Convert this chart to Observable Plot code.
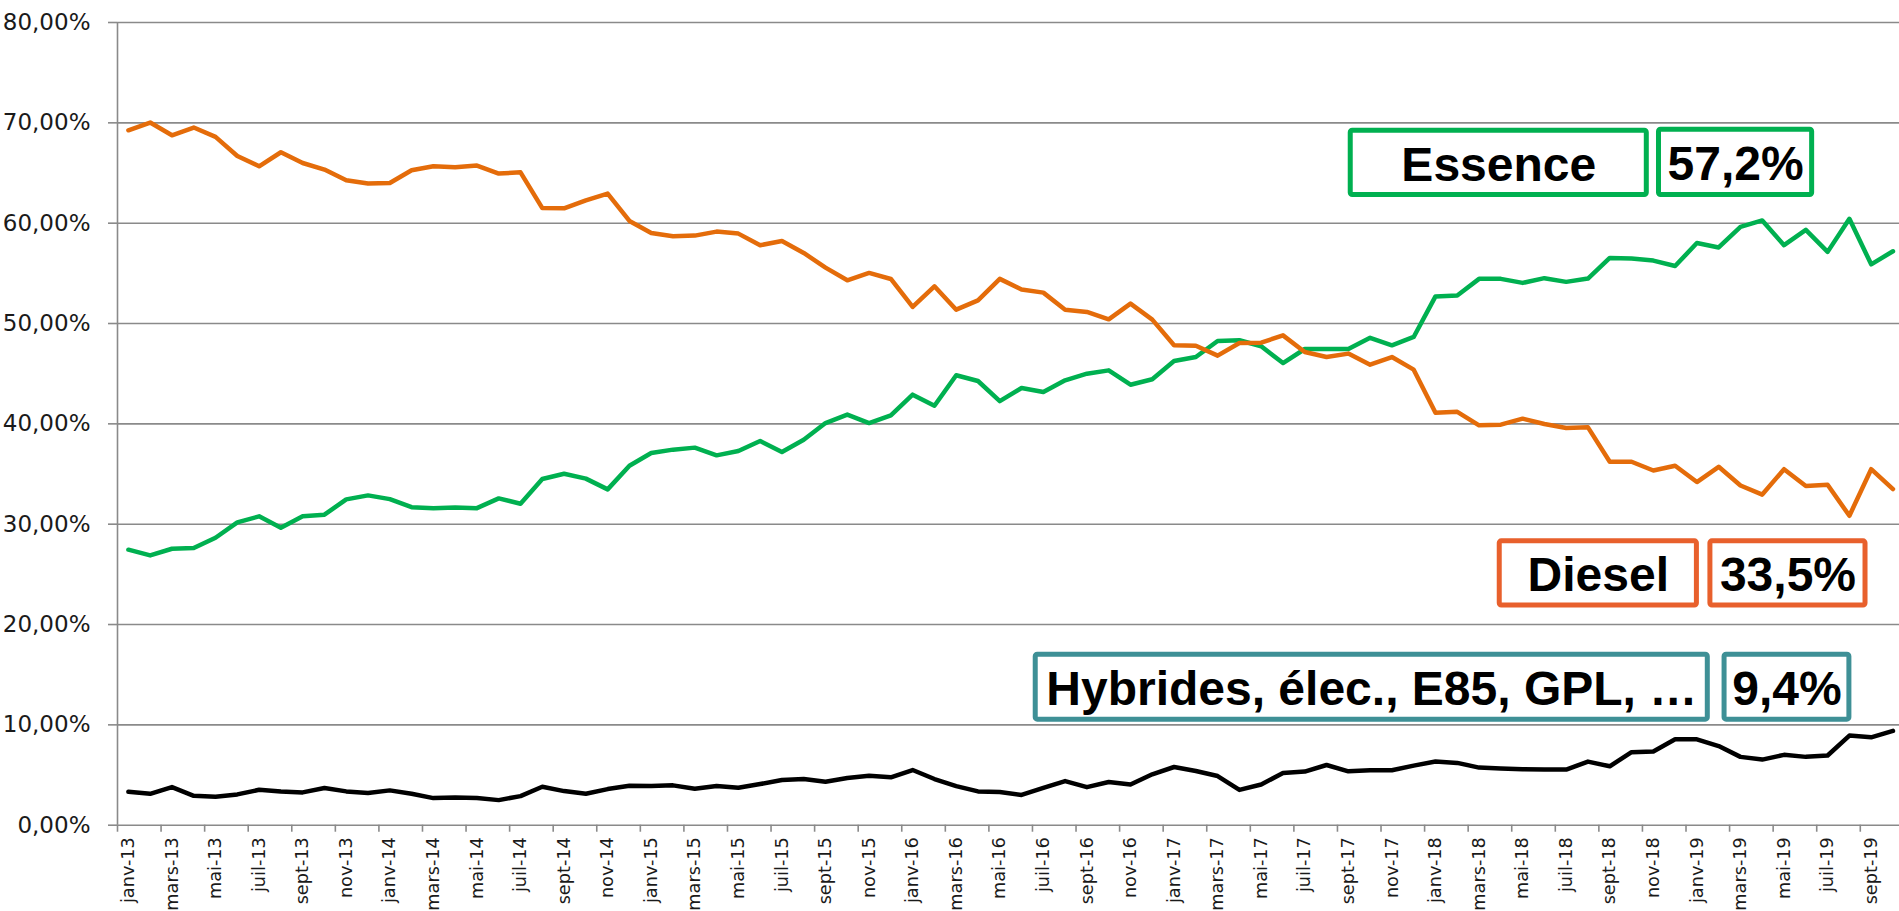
<!DOCTYPE html>
<html>
<head>
<meta charset="utf-8">
<script src="https://cdn.jsdelivr.net/npm/d3@7"></script>
<script src="https://cdn.jsdelivr.net/npm/@observablehq/plot@0.6"></script>
<style>
  html, body { margin: 0; padding: 0; background: #fff; }
  #chart svg { display: block; }
</style>
</head>
<body>
<div id="chart"></div>
<script>
// ---- Data ----
const monthNames = ["janv", "févr", "mars", "avr", "mai", "juin", "juil", "août", "sept", "oct", "nov", "déc"];
const firstYear = 13;

const essence = [
  27.46, 26.89, 27.55, 27.62, 28.65, 30.18, 30.78, 29.65, 30.78, 30.95, 32.47, 32.87,
  32.50, 31.70, 31.60, 31.67, 31.60, 32.57, 32.04, 34.50, 35.03, 34.54, 33.47, 35.83,
  37.09, 37.43, 37.63, 36.86, 37.29, 38.29, 37.19, 38.42, 40.08, 40.92, 40.08, 40.85,
  42.91, 41.81, 44.84, 44.27, 42.27, 43.57, 43.17, 44.34, 45.00, 45.33, 43.90, 44.44,
  46.26, 46.66, 48.26, 48.33, 47.73, 46.06, 47.46, 47.46, 47.46, 48.57, 47.83, 48.66,
  52.70, 52.80, 54.45, 54.45, 54.05, 54.52, 54.15, 54.48, 56.54, 56.47, 56.27, 55.73,
  58.02, 57.58, 59.63, 60.27, 57.81, 59.33, 57.14, 60.44, 55.90, 57.20
];

const diesel = [
  69.26, 70.03, 68.76, 69.53, 68.60, 66.70, 65.67, 67.07, 66.00, 65.34, 64.28, 63.95,
  64.00, 65.28, 65.67, 65.57, 65.74, 64.94, 65.07, 61.50, 61.48, 62.28, 62.95, 60.22,
  59.02, 58.69, 58.76, 59.16, 58.96, 57.80, 58.22, 57.03, 55.57, 54.31, 55.04, 54.44,
  51.65, 53.71, 51.38, 52.31, 54.45, 53.38, 53.08, 51.38, 51.15, 50.42, 51.98, 50.39,
  47.83, 47.79, 46.80, 48.06, 48.09, 48.82, 47.16, 46.66, 47.00, 45.90, 46.66, 45.40,
  41.10, 41.20, 39.85, 39.92, 40.52, 39.99, 39.58, 39.65, 36.22, 36.22, 35.35, 35.82,
  34.20, 35.72, 33.86, 32.95, 35.48, 33.80, 33.93, 30.84, 35.48, 33.50
];

const hybrides = [
  3.33, 3.13, 3.80, 2.93, 2.83, 3.07, 3.53, 3.37, 3.27, 3.70, 3.37, 3.20,
  3.47, 3.13, 2.70, 2.77, 2.70, 2.50, 2.90, 3.83, 3.40, 3.13, 3.60, 3.93,
  3.90, 3.97, 3.63, 3.90, 3.73, 4.10, 4.50, 4.60, 4.33, 4.70, 4.93, 4.77,
  5.50, 4.60, 3.90, 3.37, 3.30, 3.02, 3.72, 4.40, 3.79, 4.30, 4.06, 5.07,
  5.80, 5.40, 4.90, 3.52, 4.06, 5.20, 5.34, 6.00, 5.37, 5.47, 5.47, 5.94,
  6.34, 6.21, 5.74, 5.64, 5.57, 5.54, 5.54, 6.34, 5.87, 7.28, 7.35, 8.56,
  8.56, 7.89, 6.81, 6.54, 7.01, 6.81, 6.95, 8.93, 8.76, 9.40
];

const yTicks = [0, 10, 20, 30, 40, 50, 60, 70, 80];

// category labels "janv-13" ... "oct-19"
const categories = essence.map((_, i) => monthNames[i % 12] + "-" + (firstYear + Math.floor(i / 12)));
const labelIdx = categories.map((_, i) => i).filter(i => i % 2 === 0);
const tickBoundaries = labelIdx.map(i => i - 0.5);

const fmtPct = v => v.toFixed(1).replace(".", ",") + "%";
const last = arr => arr[arr.length - 1];

// ---- Annotation layout (in data units: category index / percent) ----
const annotations = [
  { text: "Essence", x1: 56.11, x2: 69.70, y1: 62.80, y2: 69.21, color: "#00B050" },
  { text: fmtPct(last(essence)), x1: 70.26, x2: 77.29, y1: 62.80, y2: 69.31, color: "#00B050" },
  { text: "Diesel", x1: 62.95, x2: 72.00, y1: 21.90, y2: 28.29, color: "#E8602C" },
  { text: fmtPct(last(diesel)), x1: 72.62, x2: 79.74, y1: 21.90, y2: 28.29, color: "#E8602C" },
  { text: "Hybrides, élec., E85, GPL, …", x1: 41.65, x2: 72.50, y1: 10.52, y2: 17.00, color: "#3E9096" },
  { text: fmtPct(last(hybrides)), x1: 73.27, x2: 79.00, y1: 10.52, y2: 17.00, color: "#3E9096" }
];

const series = [
  { values: essence, color: "#00B050" },
  { values: diesel, color: "#E46C0A" },
  { values: hybrides, color: "#000000" }
];

const gridColor = "#8a8a8a";
const axisFont = "DejaVu Sans, Verdana, sans-serif";
const boxFont = "Liberation Sans, Arial, Helvetica, sans-serif";

const chart = Plot.plot({
  width: 1899,
  height: 911,
  marginLeft: 117,
  marginRight: 0,
  marginTop: 22,
  marginBottom: 86.3,
  x: { type: "linear", domain: [-0.5, 81.3], axis: null },
  y: { domain: [0, 80], axis: null },
  marks: [
    Plot.ruleY(yTicks, { stroke: gridColor, strokeWidth: 1.6 }),
    Plot.ruleX([-0.5], { stroke: gridColor, strokeWidth: 1.6 }),
    Plot.axisY({
      ticks: yTicks,
      tickSize: 9,
      tickPadding: 18,
      tickFormat: d => d + ",00%",
      fontSize: 23,
      fontFamily: axisFont,
      stroke: gridColor,
      strokeWidth: 1.6,
      color: "#1a1a1a",
      label: null
    }),
    // category-boundary tick marks below the x axis (about 7px long)
    Plot.ruleX(tickBoundaries, {
      x: d => d,
      y1: 0,
      y2: -0.7,
      stroke: gridColor,
      strokeWidth: 1.6
    }),
    Plot.text(labelIdx, {
      x: i => i,
      y: () => 0,
      text: i => categories[i],
      rotate: -90,
      textAnchor: "end",
      lineAnchor: "middle",
      dy: 12,
      fontSize: 17.7,
      fontFamily: axisFont,
      fill: "#1a1a1a"
    }),
    ...series.map(s => Plot.line(s.values, {
      x: (d, i) => i,
      y: d => d,
      stroke: s.color,
      strokeWidth: 4.5,
      strokeLinejoin: "round",
      strokeLinecap: "round"
    })),
    ...annotations.map(a => Plot.rect([a], {
      x1: "x1", x2: "x2", y1: "y1", y2: "y2",
      fill: "white",
      stroke: a.color,
      strokeWidth: 5,
      rx: 2
    })),
    ...annotations.map(a => Plot.text([a], {
      x: d => (d.x1 + d.x2) / 2,
      y: d => (d.y1 + d.y2) / 2,
      text: "text",
      fontSize: 48,
      fontWeight: "bold",
      fontFamily: boxFont,
      fill: "#000",
      lineAnchor: "middle",
      dy: 2.5
    }))
  ]
});

document.getElementById("chart").appendChild(chart);
</script>
</body>
</html>
